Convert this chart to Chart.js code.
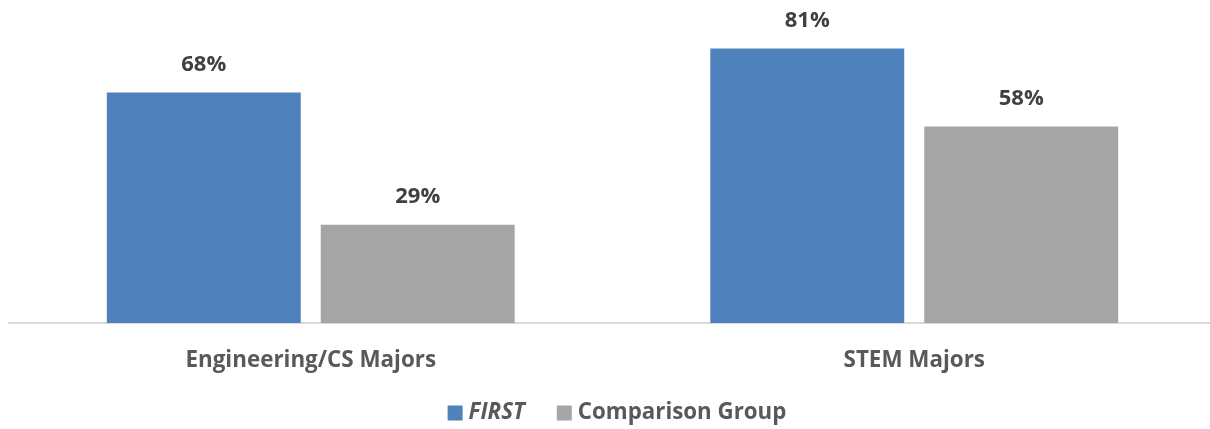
<!DOCTYPE html>
<html>
<head>
<meta charset="utf-8">
<script src="https://cdn.jsdelivr.net/npm/chart.js@4/dist/chart.umd.min.js"></script>
<style>
  html, body { margin: 0; padding: 0; background: #fff; overflow: hidden; }
  #wrap { position: relative; width: 1218px; height: 429px; }
</style>
</head>
<body>
<div id="wrap"><canvas id="chart"></canvas></div>
<script>
// data
const categories = ['Engineering/CS Majors', 'STEM Majors'];
const firstValues = [68, 81];
const comparisonValues = [29, 58];
const seriesNames = ['FIRST', 'Comparison Group'];

const FONT = '"Open Sans", "Liberation Sans", sans-serif';

// values above the bars
const valueLabels = {
    id: 'valueLabels',
    afterDatasetsDraw(chart) {
        const ctx = chart.ctx;
        ctx.save();
        ctx.font = `bold 22px ${FONT}`;
        ctx.fillStyle = '#404040';
        ctx.textAlign = 'center';
        ctx.textBaseline = 'middle';
        chart.data.datasets.forEach((ds, i) => {
            chart.getDatasetMeta(i).data.forEach((bar, j) => {
                ctx.fillText(ds.data[j] + '%', bar.x, bar.y - 27.5);
            });
        });
        ctx.restore();
    }
};

// legend drawn by hand so FIRST can be italic
const bottomLegend = {
    id: 'bottomLegend',
    afterDraw(chart) {
        const ctx = chart.ctx;
        const y = 413, box = 15, gap = 6, spacing = 32;
        ctx.save();
        const items = chart.data.datasets.map(ds => {
            ctx.font = `${ds.legendItalic ? 'italic ' : ''}bold 22.3px ${FONT}`;
            return { ds, font: ctx.font, w: ctx.measureText(ds.label).width };
        });
        let total = items.reduce((s, it) => s + box + gap + it.w, 0) + spacing * (items.length - 1);
        let x = 617 - total / 2;
        items.forEach(it => {
            ctx.fillStyle = it.ds.backgroundColor;
            ctx.fillRect(x, y - box / 2, box, box);
            x += box + gap;
            ctx.font = it.font;
            ctx.fillStyle = '#595959';
            ctx.textAlign = 'left';
            ctx.textBaseline = 'middle';
            ctx.fillText(it.ds.label, x, y);
            x += it.w + spacing;
        });
        ctx.restore();
    }
};

new Chart(document.getElementById('chart'), {
    type: 'bar',
    data: {
        labels: categories,
        datasets: [
            { label: seriesNames[0], data: firstValues, backgroundColor: '#4F81BD', legendItalic: true },
            { label: seriesNames[1], data: comparisonValues, backgroundColor: '#A5A5A5' }
        ]
    },
    options: {
        responsive: true,
        maintainAspectRatio: false,
        animation: false,
        layout: { padding: { top: 18, left: 9, right: 2, bottom: 0 } },
        categoryPercentage: 0.709,
        barPercentage: 0.9065,
        plugins: {
            legend: { display: false },
            tooltip: { enabled: false }
        },
        scales: {
            x: {
                grid: { display: false },
                border: { color: '#D9D9D9', width: 2 },
                ticks: {
                    color: '#595959',
                    font: { family: FONT, size: 22.4, weight: 'bold' },
                    padding: 16
                },
                afterFit(scale) { scale.height = 106; }
            },
            y: {
                display: false,
                min: 0,
                max: 90
            }
        }
    },
    plugins: [valueLabels, bottomLegend]
});
</script>
</body>
</html>
